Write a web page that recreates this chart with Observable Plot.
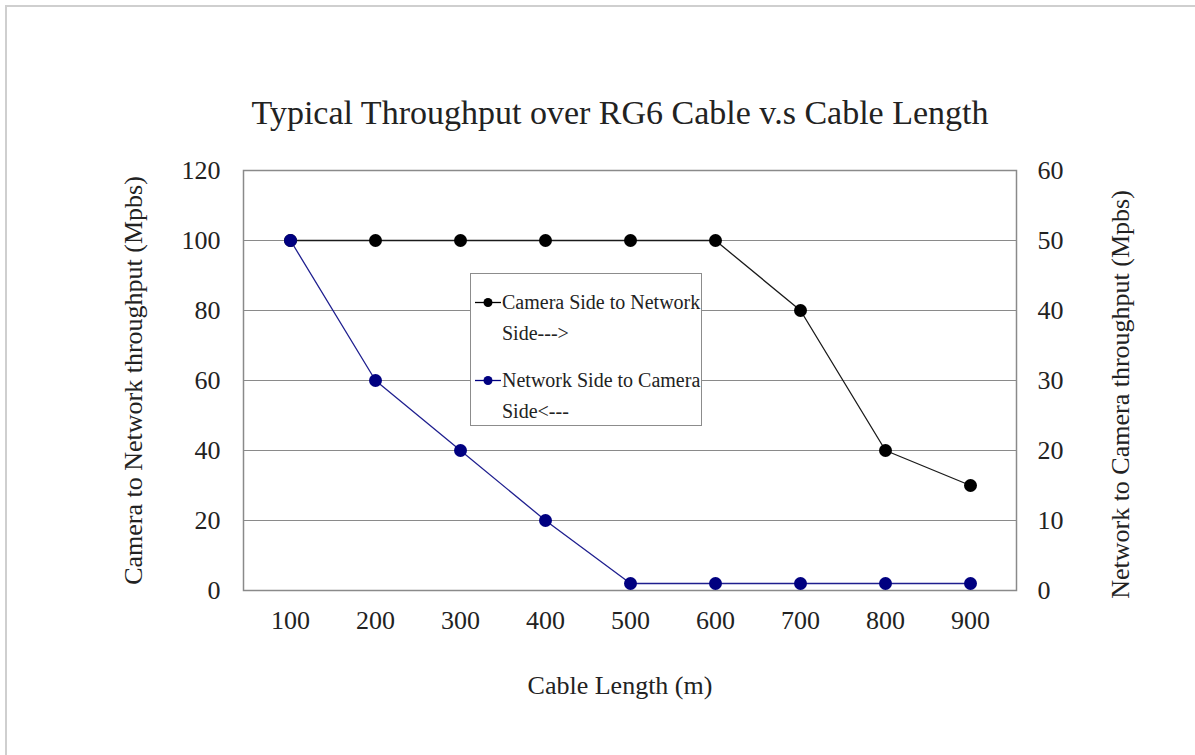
<!DOCTYPE html>
<html>
<head>
<meta charset="utf-8">
<script src="https://cdn.jsdelivr.net/npm/d3@7"></script>
<script src="https://cdn.jsdelivr.net/npm/@observablehq/plot@0.6"></script>
<style>
  html, body { margin: 0; padding: 0; background: #fff; overflow: hidden; }
  #wrap { position: relative; width: 1195px; height: 755px; }
  #edge { position: absolute; left: 5px; top: 5px; right: 0; bottom: 0;
          border-top: 2px solid #cfcfcf; border-left: 2px solid #cfcfcf; pointer-events: none; }
  #legend { position: absolute; left: 470px; top: 273px; width: 232px; height: 153px;
            box-sizing: border-box; border: 1px solid #8c8c8c; background: #fff;
            font-family: "Liberation Serif", "Times New Roman", serif; font-size: 20px; color: #222; }
  #legend .entry { position: absolute; left: 0; }
  #legend svg { position: absolute; left: 0; top: 0; }
  #legend .name { position: absolute; left: 31px; top: 0; width: 200px; line-height: 31px; white-space: normal; }
</style>
</head>
<body>
<div id="wrap">
  <div id="chart"></div>
  <div id="legend"></div>
  <div id="edge"></div>
</div>
<script>
// Cable length (m) along the bottom axis
const lengths = [100, 200, 300, 400, 500, 600, 700, 800, 900];
// Camera -> network throughput (Mbps), read on the left axis
const cameraToNetwork = [100, 100, 100, 100, 100, 100, 80, 40, 30];
// Network -> camera throughput (Mbps), read on the right axis
const networkToCamera = [50, 30, 20, 10, 1, 1, 1, 1, 1];

const leftTicks = [0, 20, 40, 60, 80, 100, 120];
const rightTicks = [0, 10, 20, 30, 40, 50, 60];

const seriesNames = ["Camera Side to Network Side--->", "Network Side to Camera Side<---"];
const seriesColors = ["#000000", "#000080"];

const titleText = "Typical Throughput over RG6 Cable v.s Cable Length";
const xLabel = "Cable Length (m)";
const yLabelLeft = "Camera to Network throughput (Mpbs)";
const yLabelRight = "Network to Camera throughput (Mpbs)";

// The right axis (0–60) shares the frame with the left axis (0–120)
const rightToLeft = v => v * 2;

const rows = lengths.map((len, i) => ({
  len,
  cam: cameraToNetwork[i],
  net: networkToCamera[i]
}));

const chart = Plot.plot({
  width: 1195,
  height: 755,
  marginLeft: 243,
  marginRight: 179,
  marginTop: 170,
  marginBottom: 165,
  style: {
    fontFamily: "'Liberation Serif', 'Times New Roman', serif",
    fontSize: "26px",
    color: "#222",
    background: "transparent"
  },
  x: { type: "point", domain: lengths, padding: 0.5, axis: null },
  y: { domain: [0, 120], axis: null },
  marks: [
    Plot.ruleY(leftTicks.filter(t => t > 0 && t < 120), { stroke: "#8a8a8a", strokeWidth: 1, strokeOpacity: 1 }),
    Plot.frame({ stroke: "#8a8a8a", strokeWidth: 1.5 }),
    Plot.axisX(lengths, { tickSize: 0, tickPadding: 20, label: null, tickFormat: d => String(d) }),
    Plot.axisY(leftTicks, { anchor: "left", tickSize: 0, tickPadding: 23, label: null, tickFormat: d => String(d) }),
    Plot.axisY(rightTicks, { anchor: "right", y: rightToLeft, tickSize: 0, tickPadding: 21, label: null, tickFormat: d => String(d) }),
    Plot.lineY(rows, { x: "len", y: "cam", stroke: "#1a1a1a", strokeWidth: 1.3 }),
    Plot.dot(rows, { x: "len", y: "cam", r: 6.5, fill: seriesColors[0], stroke: "none" }),
    Plot.lineY(rows, { x: "len", y: d => rightToLeft(d.net), stroke: "#1f1f8f", strokeWidth: 1.3 }),
    Plot.dot(rows, { x: "len", y: d => rightToLeft(d.net), r: 6.5, fill: seriesColors[1], stroke: "none" }),
    Plot.text([titleText], { text: d => d, frameAnchor: "top", dy: -57, dx: -10, fontSize: 34, lineAnchor: "middle" }),
    Plot.text([xLabel], { text: d => d, frameAnchor: "bottom", dy: 95, dx: -10, lineAnchor: "middle" }),
    Plot.text([yLabelLeft], { text: d => d, frameAnchor: "left", dx: -110, rotate: -90, textAnchor: "middle", lineAnchor: "middle" }),
    Plot.text([yLabelRight], { text: d => d, frameAnchor: "right", dx: 104, dy: 14, rotate: -90, textAnchor: "middle", lineAnchor: "middle" })
  ]
});
document.getElementById("chart").appendChild(chart);

// Legend box
const legend = d3.select("#legend");
seriesNames.forEach((name, i) => {
  const entry = legend.append("div").attr("class", "entry").style("top", (13 + i * 78) + "px");
  const sym = entry.append("svg").attr("width", 31).attr("height", 31);
  sym.append("line").attr("x1", 4).attr("x2", 30).attr("y1", 15.5).attr("y2", 15.5)
    .attr("stroke", seriesColors[i]).attr("stroke-width", 1.3);
  sym.append("circle").attr("cx", 17).attr("cy", 15.5).attr("r", 4.5).attr("fill", seriesColors[i]);
  entry.append("div").attr("class", "name").text(name);
});
</script>
</body>
</html>
